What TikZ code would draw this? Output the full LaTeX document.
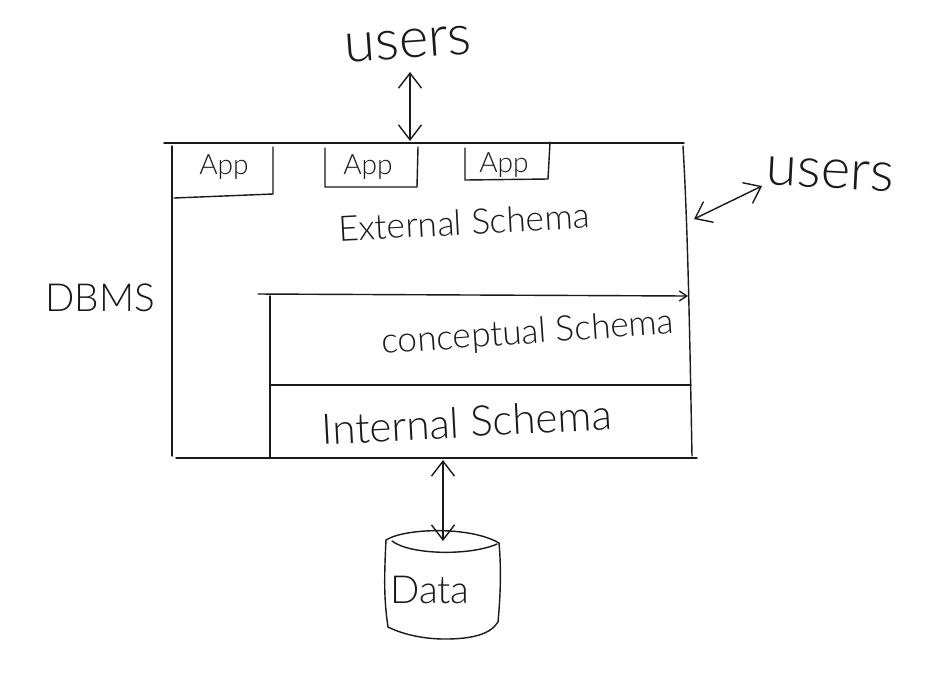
\documentclass[tikz,border=0pt]{standalone}
\usepackage{fontspec}
\setmainfont{Lato Light}[BoldFont=Lato]
\usetikzlibrary{arrows.meta,positioning}
\definecolor{Ink}{HTML}{1A1A1A}
\begin{document}
\begin{tikzpicture}[x=.02cm,y=-.02cm,
pen/.style={draw=Ink,line width=.8pt,line cap=round},
arrow/.style={pen,{Straight Barb[length=3mm,width=4.6mm]}-{Straight Barb[length=3mm,width=4.6mm]}},
hand/.style={text=Ink,inner sep=0pt,font=\fontsize{20pt}{20pt}\selectfont},
small/.style={hand,font=\fontsize{16pt}{16pt}\selectfont},
large/.style={hand,font=\fontsize{32pt}{32pt}\selectfont}]
\useasboundingbox (0,0) rectangle (942,674);
\fill[white] (0,0) rectangle (942,674);
% labels
\node[large,rotate=4](usersTop) at (408,44){users};
\node[large,rotate=-3](usersRight) at (830,174){users};
\node[hand,font=\fontsize{22pt}{22pt}\selectfont](dbms) at (100,298){DBMS};
\node[small](appA) at (224,167){App};
\node[small](appB) at (368,167){App};
\node[small](appC) at (504,165){App};
\node[hand,rotate=3](external) at (464,222){External Schema};
\node[hand,rotate=4](conceptual) at (528,334){conceptual Schema};
\node[hand,rotate=3,font=\fontsize{24pt}{24pt}\selectfont](internal) at (467,422){Internal Schema};
\node[hand,font=\fontsize{22pt}{22pt}\selectfont](data) at (430,590){Data};
% outer box
\coordinate (topL) at (164,143);\coordinate (topR) at (684,143);
\coordinate (topM) at (410,141);\coordinate (topEnd) at (410,72);
\coordinate (rightM) at (694,219);\coordinate (rightEnd) at (762,186);
\coordinate (botL) at (176,458);\coordinate (botR) at (697,458);
\coordinate (botM) at (443,460);
\draw[pen](topL)--(topR);
\draw[pen](172,146)--(172,456);
\draw[pen](683,146)..controls (688,230) and (690,350)..(692,456);
\draw[pen](botL)--(botR);
% inner box
\coordinate (concL) at (258,294);\coordinate (concR) at (688,296);
\draw[pen,-{Straight Barb[length=1.5mm,width=2mm]}](concL)--(concR);
\draw[pen](270,296)--(270,458);
\draw[pen](270,385)--(691,385);
% apps
\draw[pen](174,198)--(273,194)--(273,147);
\draw[pen](325,148)--(325,187)--(417,187)--(418,147);
\draw[pen](465,148)--(465,180)--(548,179)--(550,142);
% cylinder
\coordinate (drumTop) at (443,541);
\draw[pen](386,540)..controls (384,580) and (384,600)..(388,627)..controls (400,633) and (420,639)..(445,639)..controls (470,639) and (490,635)..(498,622)..controls (501,590) and (501,565)..(499,543);
\draw[pen](386,540)..controls (405,528) and (470,526)..(499,543);
\draw[pen](392,541)..controls (410,555) and (470,556)..(497,544);
% arrows
\draw[arrow](topEnd)--(topM);
\draw[arrow](rightM)--(rightEnd);
\draw[arrow](botM)--(drumTop);
\end{tikzpicture}
\end{document}
